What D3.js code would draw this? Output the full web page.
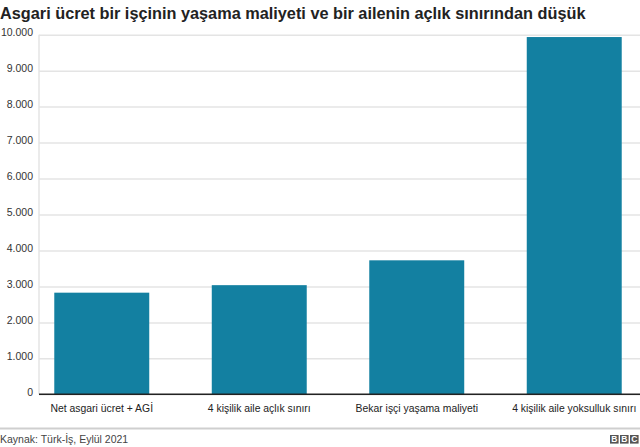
<!DOCTYPE html>
<html><head><meta charset="utf-8">
<script src="https://cdn.jsdelivr.net/npm/d3@7"></script>
<style>body{margin:0;background:#fff}svg{display:block;font-family:"Liberation Sans",Arial,sans-serif}</style>
</head><body>
<svg id="c" width="640" height="447"></svg>
<script>
const title = "Asgari ücret bir işçinin yaşama maliyeti ve bir ailenin açlık sınırından düşük";
const source = "Kaynak: Türk-İş, Eylül 2021";
const categories = ["Net asgari ücret + AGİ", "4 kişilik aile açlık sınırı", "Bekar işçi yaşama maliyeti", "4 kişilik aile yoksulluk sınırı"];
const values = [2826, 3035, 3726, 9935];
const yTicks = [0, 1000, 2000, 3000, 4000, 5000, 6000, 7000, 8000, 9000, 10000];

const svg = d3.select("#c");
const x = d3.scaleBand().domain(categories).range([39, 637]).paddingInner(0.397).paddingOuter(0.097);
const y = d3.scaleLinear().domain([0, 10000]).range([394.3, 34.7]);
const fmt = v => d3.format(",")(v).replace(/,/g, ".");
const FF = "Liberation Sans, Arial, sans-serif";

svg.append("text").attr("x", 0).attr("y", 19).attr("font-size", 16.3).attr("font-weight", "bold").attr("fill", "#222").text(title);

// grid
const yAxis = d3.axisLeft(y).tickValues(yTicks).tickFormat(fmt).tickSize(-(640 - 39)).tickPadding(6);
const gy = svg.append("g").attr("transform", "translate(39,0)").call(yAxis);
gy.select(".domain").attr("stroke", "#e4e4e4").attr("stroke-width", 1.5).attr("d", `M0,${y(10000)}V${y(0)}`);
gy.selectAll(".tick line").attr("stroke", "#e4e4e4").attr("stroke-width", 1.5);
gy.selectAll(".tick text").attr("font-size", 10.5).attr("fill", "#333").attr("font-family", FF).attr("dy", "0.1em");

// bars
svg.append("g").selectAll("rect").data(values).join("rect")
  .attr("x", (d, i) => x(categories[i]))
  .attr("width", x.bandwidth())
  .attr("y", d => y(d))
  .attr("height", d => y(0) - y(d))
  .attr("fill", "#1380a1");

// baseline + x labels
const xAxis = d3.axisBottom(x).tickSize(0).tickPadding(10);
const gx = svg.append("g").attr("transform", `translate(0,${y(0)})`).call(xAxis);
gx.select(".domain").attr("stroke", "#222").attr("stroke-width", 1.5).attr("d", `M39,0H640`);
gx.selectAll(".tick text").attr("font-size", 10.4).attr("fill", "#222").attr("font-family", FF);

// footer
svg.append("line").attr("x1", 0).attr("x2", 640).attr("y1", 428.5).attr("y2", 428.5).attr("stroke", "#cfcfcf").attr("stroke-width", 2);
svg.append("text").attr("x", 0).attr("y", 443).attr("font-size", 10.5).attr("fill", "#444").text(source);

// BBC logo
const logo = svg.append("g").attr("transform", "translate(610,435)");
["B", "B", "C"].forEach((ch, i) => {
  logo.append("rect").attr("x", i * 10).attr("y", 0).attr("width", 8.6).attr("height", 8.6).attr("fill", "#555");
  logo.append("text").attr("x", i * 10 + 4.3).attr("y", 7.4).attr("text-anchor", "middle").attr("font-size", 8.5).attr("font-weight", "bold").attr("fill", "#fff").text(ch);
});
</script>
</body></html>
